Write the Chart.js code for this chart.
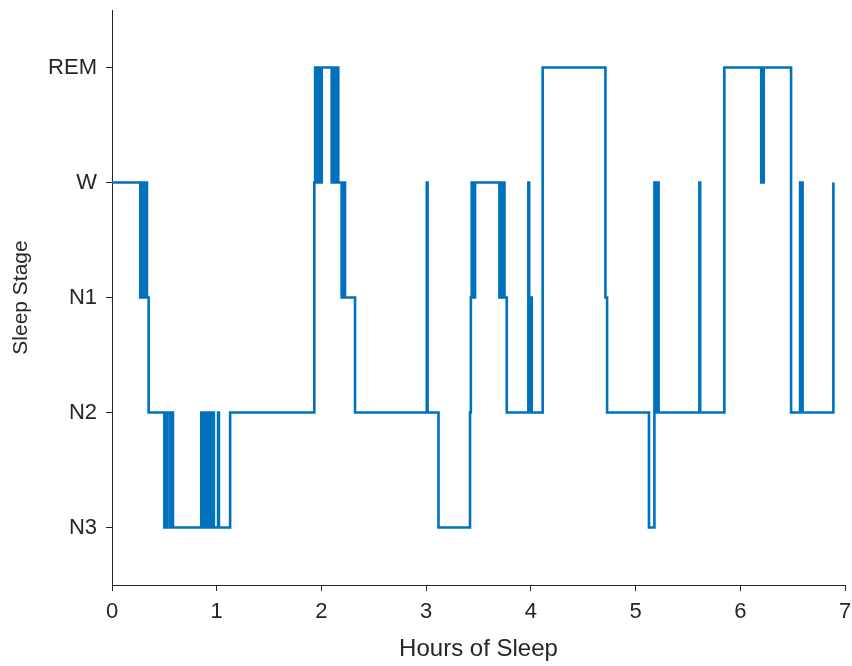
<!DOCTYPE html>
<html>
<head>
<meta charset="utf-8">
<script src="https://cdn.jsdelivr.net/npm/chart.js@4/dist/chart.umd.min.js"></script>
<style>
  html, body { margin: 0; padding: 0; background: #ffffff; }
  #wrap { width: 852px; height: 666px; }
</style>
</head>
<body>
<div id="wrap"><canvas id="hypnogram" width="852" height="666"></canvas></div>
<script>
// Sleep stage tick labels, bottom to top (y = 1..5)
const stageLabels = ['N3', 'N2', 'N1', 'W', 'REM'];

// Hour-axis tick values
const hourTicks = [0, 1, 2, 3, 4, 5, 6, 7];

// Time (hours) at which each new stage begins
const changeHours = [
  0.000, 0.270, 0.278, 0.286, 0.294, 0.302, 0.310, 0.318, 0.326, 0.334, 0.350,
  0.500, 0.508, 0.516, 0.524, 0.550, 0.558, 0.566, 0.574, 0.582,
  0.853, 0.861, 0.869, 0.877, 0.901, 0.916, 0.933, 0.941, 0.965, 0.973, 1.013, 1.021, 1.128,
  1.932, 1.940, 1.948, 1.956, 1.964, 1.972, 1.980, 1.988, 1.996, 2.003,
  2.098, 2.106, 2.114, 2.122, 2.130, 2.138, 2.146, 2.154, 2.161,
  2.193, 2.201, 2.209, 2.217, 2.225, 2.321,
  3.006, 3.014, 3.118, 3.419, 3.427, 3.435, 3.443, 3.451, 3.459, 3.467,
  3.700, 3.708, 3.716, 3.724, 3.732, 3.740, 3.748, 3.770,
  3.976, 3.984, 3.992, 4.000, 4.008, 4.113,
  4.712, 4.728,
  5.128, 5.180, 5.188, 5.196, 5.204, 5.212, 5.220,
  5.609, 5.617, 5.848,
  6.200, 6.208, 6.216, 6.224, 6.485,
  6.571, 6.579, 6.587, 6.595, 6.889
];

// Stage entered at each of the times above
const changeStages = [
  'W', 'N1', 'W', 'N1', 'W', 'N1', 'W', 'N1', 'W', 'N1', 'N2',
  'N3', 'N2', 'N3', 'N2', 'N3', 'N2', 'N3', 'N2', 'N3',
  'N2', 'N3', 'N2', 'N3', 'N2', 'N3', 'N2', 'N3', 'N2', 'N3', 'N2', 'N3', 'N2',
  'W', 'REM', 'W', 'REM', 'W', 'REM', 'W', 'REM', 'W', 'REM',
  'W', 'REM', 'W', 'REM', 'W', 'REM', 'W', 'REM', 'W',
  'N1', 'W', 'N1', 'W', 'N1', 'N2',
  'W', 'N2', 'N3', 'N2', 'N1', 'W', 'N1', 'W', 'N1', 'W',
  'N1', 'W', 'N1', 'W', 'N1', 'W', 'N1', 'N2',
  'W', 'N1', 'N2', 'N1', 'N2', 'REM',
  'N1', 'N2',
  'N3', 'W', 'N2', 'W', 'N2', 'W', 'N2',
  'W', 'N2', 'REM',
  'W', 'REM', 'W', 'REM', 'N2',
  'W', 'N2', 'W', 'N2', 'W'
];

const points = changeHours.map((h, i) => ({ x: h, y: stageLabels.indexOf(changeStages[i]) + 1 }));

const axisColor = '#262626';
const fontFamily = 'Arial, "Liberation Sans", Helvetica, sans-serif';

new Chart(document.getElementById('hypnogram'), {
  type: 'line',
  data: {
    datasets: [{
      data: points,
      stepped: 'before',
      borderColor: '#0072BD',
      borderWidth: 2.6,
      pointRadius: 0,
      fill: false,
      borderJoinStyle: 'miter'
    }]
  },
  options: {
    responsive: false,
    animation: false,
    events: [],
    layout: { padding: { left: 0, right: 7, top: 10, bottom: 0 } },
    plugins: { legend: { display: false }, tooltip: { enabled: false } },
    scales: {
      x: {
        type: 'linear',
        min: 0,
        max: 7,
        afterFit: s => { s.height = 81; s.paddingLeft = 0; s.paddingRight = 0; },
        afterBuildTicks: s => { s.ticks = hourTicks.map(v => ({ value: v })); },
        border: { color: axisColor, width: 1 },
        grid: { drawOnChartArea: false, tickLength: 6, color: axisColor },
        ticks: { color: axisColor, padding: 8, font: { family: fontFamily, size: 22 }, maxRotation: 0 },
        title: {
          display: true, text: 'Hours of Sleep', color: axisColor,
          font: { family: fontFamily, size: 24 }, padding: { top: 0, bottom: 2 }
        }
      },
      y: {
        type: 'linear',
        min: 0.5,
        max: 5.5,
        afterFit: s => { s.width = 112; s.paddingTop = 0; s.paddingBottom = 0; },
        afterBuildTicks: s => { s.ticks = stageLabels.map((_, i) => ({ value: i + 1 })); },
        border: { color: axisColor, width: 1 },
        grid: { drawOnChartArea: false, tickLength: 6, color: axisColor },
        ticks: {
          color: axisColor, padding: 9, font: { family: fontFamily, size: 22 },
          callback: v => stageLabels[v - 1] || ''
        },
        title: {
          display: true, text: 'Sleep Stage', color: axisColor,
          font: { family: fontFamily, size: 21 }, padding: { top: 9, bottom: 0 }
        }
      }
    }
  }
});
</script>
</body>
</html>
